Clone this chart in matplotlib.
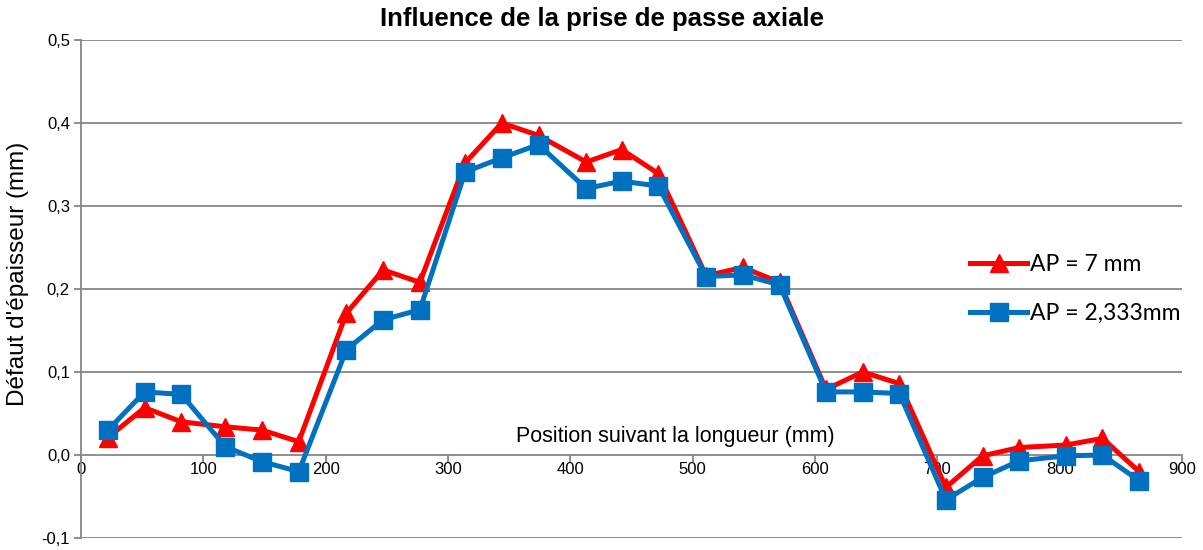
import matplotlib
matplotlib.use("Agg")
import matplotlib.pyplot as plt

# Measurement positions along the part (mm)
position = [22, 52, 82, 118, 148, 178, 217, 247, 277, 314, 344, 374, 413, 442,
            472, 511, 541, 571, 609, 639, 669, 707, 737, 767, 805, 835, 865]

# Thickness defect (mm) for each axial depth of cut
defaut_ap7 = [0.021, 0.057, 0.040, 0.034, 0.030, 0.016, 0.171, 0.223, 0.208,
              0.352, 0.400, 0.385, 0.353, 0.368, 0.339, 0.216, 0.226, 0.208,
              0.079, 0.100, 0.086, -0.039, -0.001, 0.009, 0.012, 0.020, -0.020]
defaut_ap2333 = [0.030, 0.076, 0.073, 0.010, -0.008, -0.020, 0.127, 0.163, 0.175,
                 0.341, 0.358, 0.374, 0.321, 0.330, 0.324, 0.215, 0.217, 0.205,
                 0.076, 0.076, 0.074, -0.054, -0.027, -0.007, -0.001, 0.000, -0.031]

series_labels = ["AP = 7 mm", "AP = 2,333mm"]
x_ticks = [0, 100, 200, 300, 400, 500, 600, 700, 800, 900]
y_ticks = [-0.1, 0.0, 0.1, 0.2, 0.3, 0.4, 0.5]
y_tick_labels = ["-0,1", "0,0", "0,1", "0,2", "0,3", "0,4", "0,5"]

plt.rcParams["font.family"] = ["Liberation Sans", "DejaVu Sans"]
grid_color = "#868686"

fig = plt.figure(figsize=(12.03, 5.5), dpi=100)
ax = fig.add_axes([81 / 1203, 1 - 538 / 550, (1182 - 81) / 1203, (538 - 40) / 550])

ax.plot(position, defaut_ap7, color="#FF0000", lw=3.6, marker="^", ms=13.5,
        label=series_labels[0], zorder=3)
ax.plot(position, defaut_ap2333, color="#0070C0", lw=3.6, marker="s", ms=13,
        label=series_labels[1], zorder=4)

ax.set_xlim(0, 900)
ax.set_ylim(-0.1, 0.5)
ax.set_xticks(x_ticks)
ax.set_yticks(y_ticks)
ax.set_yticklabels(y_tick_labels)

for y in y_ticks:
    if y != 0.0:
        ax.axhline(y, color=grid_color, lw=1.3, zorder=1)

for side in ("top", "right"):
    ax.spines[side].set_visible(False)
ax.spines["left"].set_color(grid_color)
ax.spines["left"].set_linewidth(1.3)
ax.spines["bottom"].set_position(("data", 0.0))
ax.spines["bottom"].set_color(grid_color)
ax.spines["bottom"].set_linewidth(1.3)
ax.spines["bottom"].set_zorder(2)

ax.tick_params(axis="x", direction="out", length=5, width=1.3, color=grid_color,
               labelsize=12, pad=0)
ax.tick_params(axis="y", direction="out", length=5, width=1.3, color=grid_color,
               labelsize=12, pad=3)

fig.text(602 / 1203, 1 - 19 / 550, "Influence de la prise de passe axiale",
         ha="center", va="center", fontsize=18.5, fontweight="bold")
fig.text(18 / 1203, 1 - 274 / 550, "Défaut d'épaisseur (mm)", rotation=90,
         ha="center", va="center", fontsize=17.5)
ax.text(0.540, 0.203, "Position suivant la longueur (mm)", transform=ax.transAxes,
        ha="center", va="center", fontsize=15.5)

leg = ax.legend(loc="center left", bbox_to_anchor=(0.8074, 0.5), frameon=False,
                borderpad=0, borderaxespad=0,
                handlelength=2.5, handletextpad=0.12, labelspacing=1.2,
                prop={"family": "Lato", "size": 16.5})

fig.savefig("out.png", dpi=100)
